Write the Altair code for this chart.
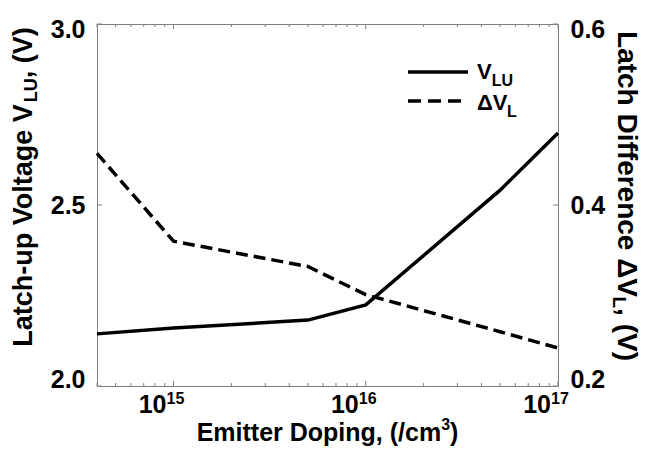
import altair as alt
import pandas as pd

# ---------------- data ----------------
doping = [4e14, 1e15, 5e15, 1e16, 5e16, 1e17]
v_lu = [2.144, 2.160, 2.182, 2.224, 2.541, 2.699]
dv_l = [0.457, 0.360, 0.332, 0.301, 0.260, 0.242]

x_major = [1e15, 1e16, 1e17]
x_exp = ["15", "16", "17"]
x_minor = [4e14, 5e14, 6e14, 7e14, 8e14, 9e14,
           2e15, 3e15, 4e15, 5e15, 6e15, 7e15, 8e15, 9e15,
           2e16, 3e16, 4e16, 5e16, 6e16, 7e16, 8e16, 9e16]
left_ticks = [2.0, 2.5, 3.0]
right_ticks = [0.2, 0.4, 0.6]

left_title = ["Latch-up Voltage V", "LU", ", (V)"]
right_title = ["Latch Difference \u0394V", "L", ", (V)"]
x_title = ["Emitter Doping, (/cm", "3", ")"]
legend_main = ["V", "\u0394V"]
legend_sub = ["LU", "L"]

# ---------------- layout / style ----------------
FONT = "Liberation Sans"
W, H = 461, 362
INK = "black"
FRAME = "#808080"

CW = {" ": 278, ",": 278, "(": 333, ")": 333, "/": 278, "-": 333, ".": 278,
      "L": 611, "V": 667, "D": 722, "E": 667, "U": 722, "\u0394": 700,
      "a": 556, "c": 556, "e": 556, "f": 333, "g": 611, "h": 611, "i": 278,
      "l": 278, "m": 889, "n": 611, "o": 611, "p": 611, "r": 389, "t": 333,
      "u": 611}
for d in "0123456789":
    CW[d] = 556


def tw(s, fs):
    return sum(CW.get(c, 600) for c in s) * fs / 1000.0


def piece(s, x, y, fs, angle=0, dx=0, dy=0, align="left"):
    return alt.Chart(pd.DataFrame({"s": [s]})).mark_text(
        font=FONT, fontSize=fs, fontWeight="bold", color=INK, align=align,
        baseline="alphabetic", angle=angle, dx=dx, dy=dy
    ).encode(text="s:N", x=alt.value(x), y=alt.value(y))


xscale = alt.Scale(type="log", domain=[4e14, 1e17], nice=False)
lscale = alt.Scale(domain=[2.0, 3.0], zero=False, nice=False)
rscale = alt.Scale(domain=[0.2, 0.6], zero=False, nice=False)

df = pd.DataFrame({"doping": doping, "vlu": v_lu, "dvl": dv_l})

ax_common = dict(labelFont=FONT, labelFontSize=25, labelFontWeight="bold",
                 labelColor=INK, ticks=False, tickSize=0, domain=False,
                 grid=False, title=None, labelPadding=12, format=".1f")

solid = alt.Chart(df).mark_line(color=INK, strokeWidth=3.5).encode(
    x=alt.X("doping:Q", scale=xscale, axis=None),
    y=alt.Y("vlu:Q", scale=lscale,
            axis=alt.Axis(orient="left", values=left_ticks,
                          labelOffset={"condition": [
                              {"test": "datum.value >= 2.99", "value": 5},
                              {"test": "datum.value <= 2.01", "value": -7}],
                              "value": 0},
                          **ax_common)),
)
dashed = alt.Chart(df).mark_line(color=INK, strokeWidth=3.5, strokeDash=[12, 6]).encode(
    x=alt.X("doping:Q", scale=xscale, axis=None),
    y=alt.Y("dvl:Q", scale=rscale,
            axis=alt.Axis(orient="right", values=right_ticks,
                          labelOffset={"condition": [
                              {"test": "datum.value >= 0.59", "value": 5},
                              {"test": "datum.value <= 0.21", "value": -7}],
                              "value": 0},
                          **ax_common)),
)

# inward ticks
minor_df = pd.DataFrame({"t": x_minor})
major_df = pd.DataFrame({"t": x_major, "e": x_exp})
tick_layers = []
for ydf, ln in ((minor_df, 3), (major_df, 5)):
    tick_layers.append(alt.Chart(ydf).mark_rule(color=FRAME, strokeWidth=1).encode(
        x=alt.X("t:Q", scale=xscale, axis=None), y=alt.value(H), y2=alt.value(H - ln)))
    tick_layers.append(alt.Chart(ydf).mark_rule(color=FRAME, strokeWidth=1).encode(
        x=alt.X("t:Q", scale=xscale, axis=None), y=alt.value(0), y2=alt.value(ln)))
tick_layers.append(alt.Chart(pd.DataFrame({"v": left_ticks})).mark_rule(color=FRAME).encode(
    y=alt.Y("v:Q", scale=lscale, axis=None), x=alt.value(0), x2=alt.value(5)))
tick_layers.append(alt.Chart(pd.DataFrame({"v": right_ticks})).mark_rule(color=FRAME).encode(
    y=alt.Y("v:Q", scale=rscale, axis=None), x=alt.value(W - 5), x2=alt.value(W)))

# x tick labels 10^n
base10 = alt.Chart(major_df).transform_calculate(b="'10'").mark_text(
    font=FONT, fontSize=25, fontWeight="bold", color=INK, align="right",
    baseline="alphabetic", dx=-7
).encode(x=alt.X("t:Q", scale=xscale, axis=None), y=alt.value(H + 27), text="b:N")
expo = alt.Chart(major_df).mark_text(
    font=FONT, fontSize=16, fontWeight="bold", color=INK, align="left",
    baseline="alphabetic", dx=-7
).encode(x=alt.X("t:Q", scale=xscale, axis=None), y=alt.value(H + 18), text="e:N")

# x title
FX, SX = 25, 16
w1 = tw(x_title[0], FX); w2 = tw(x_title[1], SX); w3 = tw(x_title[2], FX)
T = w1 + w2 + w3
x0 = W / 2 - T / 2
xt = [piece(x_title[0], x0, H + 55, FX),
      piece(x_title[1], x0 + w1, H + 44, SX),
      piece(x_title[2], x0 + w1 + w2, H + 55, FX)]

# left title (rotated, reading upward)
FL, SL = 27, 18
a1 = tw(left_title[0], FL); a2 = tw(left_title[1], SL); a3 = tw(left_title[2], FL)
TL = a1 + a2 + a3
yl0 = 163 + TL / 2
lt = [piece(left_title[0], -65, yl0, FL, angle=270),
      piece(left_title[1], -65, yl0, SL, angle=270, dx=a1, dy=5),
      piece(left_title[2], -65, yl0, FL, angle=270, dx=a1 + a2)]

# right title (rotated, reading downward)
FR, SR = 28, 19
b1 = tw(right_title[0], FR); b2 = tw(right_title[1], SR); b3 = tw(right_title[2], FR)
TR = b1 + b2 + b3
yr0 = 172 - TR / 2
rt = [piece(right_title[0], W + 60, yr0, FR, angle=90),
      piece(right_title[1], W + 60, yr0, SR, angle=90, dx=b1, dy=5),
      piece(right_title[2], W + 60, yr0, FR, angle=90, dx=b1 + b2)]

# legend
FG, SG = 22, 16
leg = [
    alt.Chart(pd.DataFrame({"k": [0]})).mark_rule(color=INK, strokeWidth=3.5).encode(
        x=alt.value(311), x2=alt.value(371), y=alt.value(48)),
    alt.Chart(pd.DataFrame({"k": [0]})).mark_rule(color=INK, strokeWidth=3.5, strokeDash=[13, 7]).encode(
        x=alt.value(311), x2=alt.value(371), y=alt.value(77)),
    piece(legend_main[0], 380, 55, FG),
    piece(legend_sub[0], 380 + tw(legend_main[0], FG), 62, SG),
    piece(legend_main[1], 380, 86, FG),
    piece(legend_sub[1], 380 + tw(legend_main[1], FG), 93, SG),
]

chart = alt.layer(
    solid, dashed, *tick_layers, base10, expo, *xt, *lt, *rt, *leg
).resolve_scale(y="independent").properties(
    width=W, height=H,
    autosize=alt.AutoSizeParams(type="none"),
    padding={"left": 89, "top": 16, "right": 95, "bottom": 61},
    background="white",
).configure_view(stroke=FRAME, strokeWidth=1)

chart.save("out.html", embed_options={"renderer": "svg", "actions": False})
